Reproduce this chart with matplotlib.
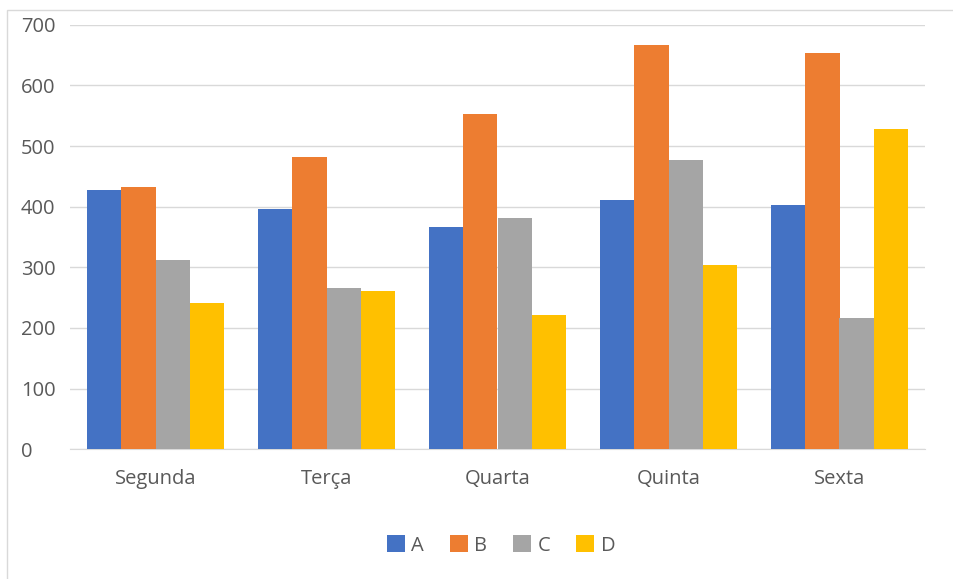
import matplotlib.pyplot as plt
from matplotlib.patches import Rectangle
import numpy as np

plt.rcParams['font.family'] = ['Open Sans', 'DejaVu Sans']

days = ["Segunda", "Terça", "Quarta", "Quinta", "Sexta"]
series_names = ["A", "B", "C", "D"]
a_vals = [428, 396, 366, 411, 402]
b_vals = [433, 482, 552, 666, 654]
c_vals = [312, 266, 381, 477, 216]
d_vals = [242, 261, 222, 304, 528]
colors = ["#4472C4", "#ED7D31", "#A5A5A5", "#FFC000"]

text_col = "#595959"
grid_col = "#D9D9D9"
fs = 14.5

fig = plt.figure(figsize=(9.54, 5.79), dpi=100)
ax = fig.add_axes([70 / 954, 129.7 / 579, 855 / 954, 424.6 / 579])

# light chart-area border, partly cropped off the right and bottom
fig.patches.append(Rectangle((7 / 954, -0.05), 1.1, (579 - 10) / 579 + 0.05,
                             transform=fig.transFigure, fill=False,
                             edgecolor=grid_col, linewidth=1))

x = np.arange(len(days))
width = 0.2
for i, (name, vals) in enumerate(zip(series_names, [a_vals, b_vals, c_vals, d_vals])):
    ax.bar(x + (i - 1.5) * width, vals, width, color=colors[i], label=name, zorder=3)

ax.set_xlim(-0.5, len(days) - 0.5)
ax.set_ylim(0, 700)
ax.set_yticks(range(0, 701, 100))
ax.set_xticks(x)
ax.set_xticklabels(days)
ax.yaxis.grid(True, color=grid_col, linewidth=1)
ax.set_axisbelow(True)
for s in ["top", "right", "left"]:
    ax.spines[s].set_visible(False)
ax.spines["bottom"].set_color(grid_col)
ax.tick_params(axis="both", length=0, colors=text_col, labelsize=fs)
# y labels sit left-aligned at x=21px
ax.tick_params(axis="y", pad=(70 - 21) * 0.72)
for lbl in ax.get_yticklabels():
    lbl.set_horizontalalignment("left")
ax.tick_params(axis="x", pad=14)

ax.legend(loc="center", bbox_to_anchor=(501 / 954, 1 - 545.5 / 579),
          bbox_transform=fig.transFigure, ncol=4, frameon=False,
          handlelength=0.9, handleheight=0.9, handletextpad=0.3,
          columnspacing=1.3, fontsize=fs, labelcolor=text_col)

fig.savefig("out.png", dpi=100)
